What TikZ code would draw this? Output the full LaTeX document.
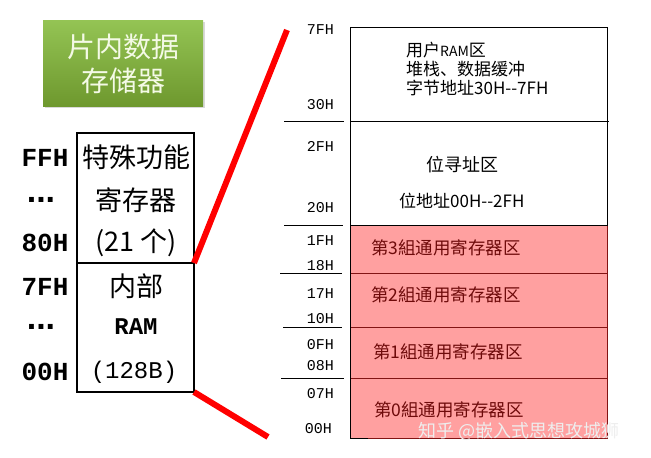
\documentclass[tikz,border=0pt]{standalone}
\usepackage{fontspec}
\setmainfont{Noto Sans CJK SC}
\newfontfamily\cjk{Noto Sans CJK SC}
\newfontfamily\hexf{Liberation Mono}
\newfontfamily\dotf{Liberation Sans}
\usetikzlibrary{shadows}
\definecolor{pinkfill}{RGB}{255,160,160}
\definecolor{darkred}{RGB}{130,20,20}
\definecolor{pinktext}{RGB}{110,10,10}
\definecolor{gtop}{RGB}{148,196,84}
\definecolor{gbot}{RGB}{110,152,46}
\definecolor{gtext}{RGB}{244,250,230}
\definecolor{wmark}{RGB}{238,238,238}
\tikzset{
  hexl/.style={font=\hexf\bfseries\fontsize{26}{26}\selectfont, inner sep=0pt, anchor=center},
  dots/.style={font=\dotf\bfseries\fontsize{34}{34}\selectfont, inner sep=0pt, anchor=center},
  hexr/.style={font=\hexf\fontsize{15}{15}\selectfont, inner sep=0pt, anchor=east},
  boxtxt/.style={font=\cjk\fontsize{27}{27}\selectfont, inner sep=0pt, anchor=center},
  rtxt/.style={font=\cjk\fontsize{17}{17}\selectfont, inner sep=0pt},
  pinktxt/.style={font=\cjk\fontsize{17.5}{17.5}\selectfont, inner sep=0pt, anchor=west, text=pinktext},
  tick/.style={line width=1pt, black},
  redline/.style={line width=6pt, red},
}
\begin{document}
\begin{tikzpicture}[x=1pt,y=-1pt]
\useasboundingbox (0,0) rectangle (651,458);
% green title box
\node[draw=none, top color=gtop, bottom color=gbot, minimum width=160pt, minimum height=86pt, inner sep=0pt,
      drop shadow={shadow xshift=1.5pt, shadow yshift=-1.5pt, opacity=0.3}] (title) at (123,63) {};
\node[font=\cjk\fontsize{28}{34}\selectfont, text=gtext, align=center, inner sep=0pt] (titletxt) at (123,64) {片内数据\\存储器};
% left box
\draw[line width=1.5pt] (77,133) rectangle (194,392);
\draw[line width=1.5pt] (77,263) -- (194,263);
\coordinate (sfrtop) at (194,133);
\coordinate (sfrbot) at (194,263);
\coordinate (rambot) at (194,392);
\node[boxtxt] (sfr1) at (136,157) {特殊功能};
\node[boxtxt] (sfr2) at (136,200) {寄存器};
\node[boxtxt] (sfr3) at (136,243) {(21 个)};
\node[boxtxt] (ram1) at (136,286) {内部};
\node[font=\hexf\bfseries\fontsize{24}{24}\selectfont, inner sep=0pt] (ram2) at (136,327) {RAM};
\node[font=\hexf\fontsize{24}{24}\selectfont, inner sep=0pt] (ram3) at (134,372) {(128B)};
\node[hexl] (lffh) at (45,158) {FFH};
\node[dots] (ld1) at (41,200) {...};
\node[hexl] (l80h) at (45,243) {80H};
\node[hexl] (l7fh) at (45,287) {7FH};
\node[dots] (ld2) at (41,327) {...};
\node[hexl] (l00h) at (45,372) {00H};
% red connectors
\coordinate (zt) at (287,30);
\coordinate (zb) at (268,437);
\draw[redline] (sfrbot) -- (zt);
\draw[redline] (rambot) -- (zb);
% right box
\fill[pinkfill] (350,226) rectangle (607,438);
\draw[line width=1pt, darkred] (350,273) -- (607,273);
\draw[line width=1pt, darkred] (350,327) -- (607,327);
\draw[line width=1pt, darkred] (350,378) -- (607,378);
\draw[line width=1pt, darkred] (607,226) -- (607,438) -- (350,438);
\draw[line width=1pt] (607,226) -- (607,27) -- (350,27) -- (350,438) -- (368,438);
\draw[line width=1pt] (350,121) -- (609,121);
\draw[line width=1pt] (350,225) -- (607,225);
% ticks
\draw[tick] (284,121) -- (344,121);
\draw[tick] (284,225) -- (343,225);
\draw[tick] (280,273) -- (342,273);
\draw[tick] (283,327) -- (342,327);
\draw[tick] (281,378) -- (344,378);
% right hex labels
\node[hexr] (r7fh) at (334,30) {7FH};
\node[hexr] (r30h) at (334,105) {30H};
\node[hexr] (r2fh) at (334,146) {2FH};
\node[hexr] (r20h) at (334,208) {20H};
\node[hexr] (r1fh) at (334,241) {1FH};
\node[hexr] (r18h) at (334,266) {18H};
\node[hexr] (r17h) at (334,294) {17H};
\node[hexr] (r10h) at (334,319) {10H};
\node[hexr] (r0fh) at (334,345) {0FH};
\node[hexr] (r08h) at (334,366) {08H};
\node[hexr] (r07h) at (334,394) {07H};
\node[hexr] (r00h) at (332,429) {00H};
% right texts
\node[rtxt, anchor=west] (u1) at (406,50) {用户\fontsize{14}{14}\selectfont RAM\fontsize{17}{17}\selectfont 区};
\node[rtxt, anchor=west] (u2) at (406,69) {堆栈、数据缓冲};
\node[rtxt, anchor=west] (u3) at (406,88) {字节地址30H--7FH};
\node[rtxt, anchor=center, font=\cjk\fontsize{18}{18}\selectfont] (b1) at (462,165) {位寻址区};
\node[rtxt, anchor=west] (b2) at (399,201) {位地址00H--2FH};
\node[pinktxt] (g3) at (371,248) {第3組通用寄存器区};
\node[pinktxt] (g2) at (371,295) {第2組通用寄存器区};
\node[pinktxt] (g1) at (373,352) {第1組通用寄存器区};
\node[pinktxt] (g0) at (374,410) {第0組通用寄存器区};
% watermark
\node[font=\cjk\fontsize{18}{18}\selectfont, text=wmark, inner sep=0pt, anchor=west] (wm) at (418,431) {知乎 @嵌入式思想攻城狮};
\end{tikzpicture}
\end{document}
